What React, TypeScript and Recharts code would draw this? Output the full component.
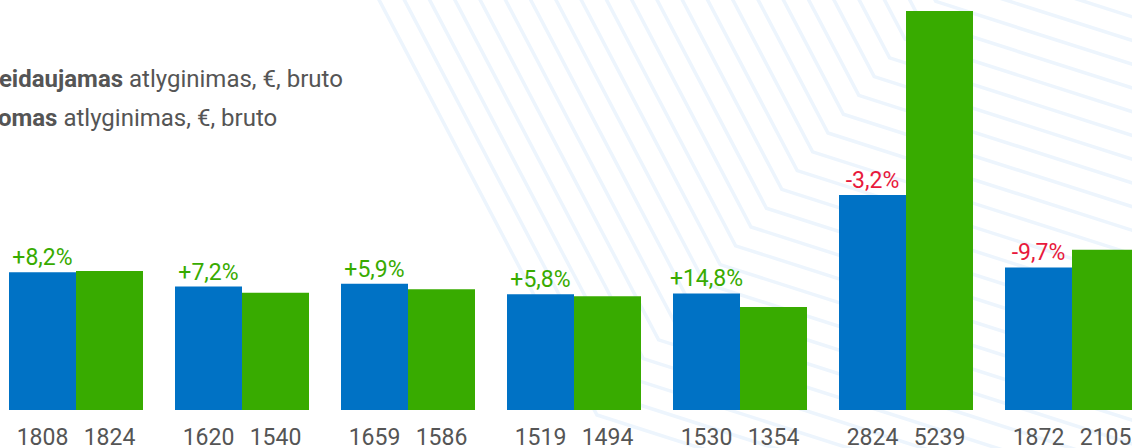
import React from 'react';
import { Bar, BarChart, LabelList, XAxis, YAxis } from 'recharts';

// salary groups (category names are not visible in the crop)
const groups = ['g1', 'g2', 'g3', 'g4', 'g5', 'g6', 'g7'];
const desiredSalary = [1808, 1620, 1659, 1519, 1530, 2824, 1872];
const offeredSalary = [1824, 1540, 1586, 1494, 1354, 5239, 2105];
const changeLabels = ['+8,2%', '+7,2%', '+5,9%', '+5,8%', '+14,8%', '-3,2%', '-9,7%'];

const BLUE = '#0072c5';
const GREEN = '#38ab00';
const RED = '#e8193c';
const TEXT = '#555555';
const FONT = 'Roboto, "Noto Sans", sans-serif';

const data = groups.map((g, i) => ({
  key: g,
  desired: desiredSalary[i],
  offered: offeredSalary[i],
  change: changeLabels[i],
}));

function ValueLabel(props: any) {
  const { x, y, width, height, value } = props;
  return (
    <text
      x={Number(x) + Number(width) / 2}
      y={Number(y) + Number(height) + 35}
      textAnchor="middle"
      fill={TEXT}
      fontSize={23}
      fontFamily={FONT}
    >
      {value}
    </text>
  );
}

function ChangeLabel(props: any) {
  const { x, y, width, value } = props;
  const negative = String(value).startsWith('-');
  return (
    <text
      x={Number(x) + Number(width) / 2}
      y={Number(y) - 7}
      textAnchor="middle"
      fill={negative ? RED : GREEN}
      fontSize={23}
      fontFamily={FONT}
    >
      {value}
    </text>
  );
}

// faint chevron lines in the background (decoration only)
function Backdrop() {
  const lines = [];
  for (let k = -12; k <= 15; k++) {
    const bx = 828 - 15.4 * k;
    const by = 133 + 18.8 * k;
    const topX = bx - 0.525 * (by + 10);
    const endX = 1150;
    const endY = by + 0.32 * (endX - bx);
    lines.push(
      <polyline
        key={k}
        points={`${topX},-10 ${bx},${by} ${endX},${endY}`}
        fill="none"
        stroke="#edf5fd"
        strokeWidth={3.5}
      />,
    );
  }
  return (
    <svg
      width={1132}
      height={448}
      style={{ position: 'absolute', left: 0, top: 0 }}
    >
      {lines}
    </svg>
  );
}

export default function App() {
  return (
    <div
      style={{
        position: 'absolute',
        left: 0,
        top: 0,
        width: 1132,
        height: 448,
        overflow: 'hidden',
        background: '#fff',
      }}
    >
      <Backdrop />
      <div style={{ position: 'absolute', left: -7, top: 0 }}>
        <BarChart
          width={1162}
          height={448}
          data={data}
          margin={{ top: 11, right: 0, bottom: 38, left: 0 }}
          barGap={0}
          barSize={67}
        >
          <XAxis dataKey="key" hide />
          <YAxis hide domain={[0, 5239]} />
          <Bar dataKey="desired" fill={BLUE} isAnimationActive={false}>
            <LabelList dataKey="desired" content={ValueLabel} />
            <LabelList dataKey="change" content={ChangeLabel} />
          </Bar>
          <Bar dataKey="offered" fill={GREEN} isAnimationActive={false}>
            <LabelList dataKey="offered" content={ValueLabel} />
          </Bar>
        </BarChart>
      </div>
      <svg
        width={400}
        height={150}
        style={{ position: 'absolute', left: 0, top: 0 }}
      >
        <text x={-43} y={87} fontSize={24} fontFamily={FONT} fill={TEXT}>
          <tspan fontWeight={700}>Pageidaujamas</tspan> atlyginimas, €, bruto
        </text>
        <text x={-43} y={126} fontSize={24} fontFamily={FONT} fill={TEXT}>
          <tspan fontWeight={700}>Siūlomas</tspan> atlyginimas, €, bruto
        </text>
      </svg>
    </div>
  );
}
